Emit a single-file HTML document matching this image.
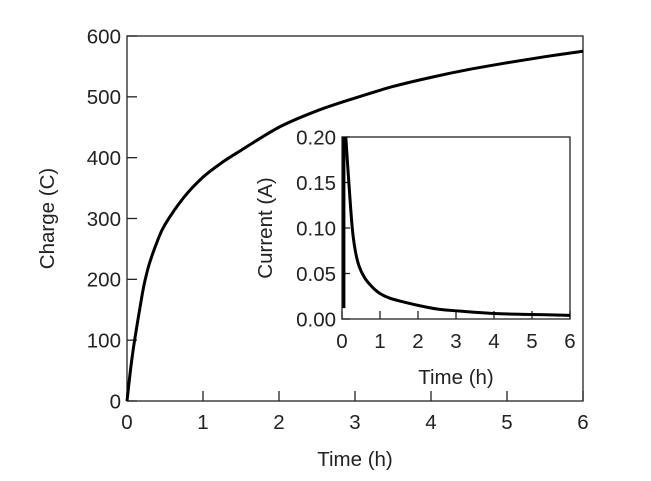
<!DOCTYPE html>
<html><head><meta charset="utf-8"><style>
html,body{margin:0;padding:0;background:#fff;}
svg{display:block;font-family:"Liberation Sans",Arial,sans-serif;}
</style></head><body>
<svg id="chart" width="651" height="481" viewBox="0 0 651 481"></svg>
<script>
const mainTimes=[0,0.05,0.1,0.2,0.25,0.3,0.4,0.5,0.75,1,1.25,1.5,2,2.5,3,3.5,4,4.5,5,5.5,6];
const mainCharge=[0,55,100,175,205,228,263,290,335,368,392,412,450,477,498,517,532,545,556,566,575];
const mainXTicks=[0,1,2,3,4,5,6];
const mainYTicks=[0,100,200,300,400,500,600];
const insetSpikeTimes=[0.05,0.05];
const insetSpikeCurrent=[0.012,0.2];
const insetTimes=[0.1,0.18,0.27,0.35,0.45,0.6,0.8,1,1.25,1.5,2,2.5,3,4,5,6];
const insetCurrent=[0.2,0.15,0.1,0.075,0.058,0.045,0.035,0.028,0.023,0.02,0.015,0.011,0.009,0.006,0.005,0.004];
const insetXTicks=[0,1,2,3,4,5,6];
const insetYTicks=["0.00","0.05","0.10","0.15","0.20"];

const NS="http://www.w3.org/2000/svg";
const svg=document.getElementById('chart');
function mk(tag,attrs,parent){const e=document.createElementNS(NS,tag);for(const k in attrs)e.setAttribute(k,attrs[k]);(parent||svg).appendChild(e);return e;}
function smooth(pts){
  if(pts.length<3)return pts.map((p,i)=>(i?'L':'M')+p[0].toFixed(2)+','+p[1].toFixed(2)).join(' ');
  let d='M'+pts[0][0].toFixed(2)+','+pts[0][1].toFixed(2);
  for(let i=0;i<pts.length-1;i++){
    const p0=pts[i-1]||pts[i],p1=pts[i],p2=pts[i+1],p3=pts[i+2]||p2;
    const c1=[p1[0]+(p2[0]-p0[0])/6,p1[1]+(p2[1]-p0[1])/6];
    const c2=[p2[0]-(p3[0]-p1[0])/6,p2[1]-(p3[1]-p1[1])/6];
    d+=` C${c1[0].toFixed(2)},${c1[1].toFixed(2)} ${c2[0].toFixed(2)},${c2[1].toFixed(2)} ${p2[0].toFixed(2)},${p2[1].toFixed(2)}`;
  }
  return d;
}

function drawPanel(o){
  const sx=v=>o.x0+(v-o.xmin)/(o.xmax-o.xmin)*(o.x1-o.x0);
  const sy=v=>o.y0-(v-o.ymin)/(o.ymax-o.ymin)*(o.y0-o.y1);
  const g=mk('g',{});
  
  
  const f=mk('rect',{x:o.x0,y:o.y1,width:o.x1-o.x0,height:o.y0-o.y1,fill:'#fff',stroke:'#222','stroke-width':1.3},g);
  
  
  o.xt.forEach(t=>{
    const x=sx(t);
    const l=mk('line',{x1:x,x2:x,y1:o.y0,y2:o.y0-o.tl,stroke:'#222','stroke-width':1.3},g);
    
    
    const tx=mk('text',{x:x,y:o.y0+o.xlo,'text-anchor':'middle','font-size':o.fs,fill:'#222'},g);
    
    
    tx.textContent=t;
  });
  o.yt.forEach(t=>{
    const y=sy(+t);
    const l=mk('line',{x1:o.x0,x2:o.x0+o.tl,y1:y,y2:y,stroke:'#222','stroke-width':1.3},g);
    
    
    const tx=mk('text',{x:o.x0-6,y:y+o.fs*0.36,'text-anchor':'end','font-size':o.fs,fill:'#222'},g);
    
    
    tx.textContent=t;
  });
  o.series.forEach(s=>{
    const d=smooth(s.xs.map((v,i)=>[sx(v),sy(s.ys[i])]));
    const p=mk('path',{d:d,fill:'none',stroke:'#000','stroke-width':3,'stroke-linejoin':'round'},g);
    
    
  });
  const xl=mk('text',{x:(o.x0+o.x1)/2,y:o.xly,'text-anchor':'middle','font-size':o.fs,fill:'#222'},g);
  
  
  xl.textContent='Time (h)';
  const yl=mk('text',{x:0,y:0,transform:`translate(${o.ylx},${(o.y0+o.y1)/2}) rotate(-90)`,'text-anchor':'middle','font-size':o.fs,fill:'#222'},g);
  
  
  yl.textContent=o.ytitle;
}

drawPanel({name:'main-chart',x0:127,x1:583,y0:401,y1:36,xmin:0,xmax:6,ymin:0,ymax:600,
  xt:mainXTicks,yt:mainYTicks,tl:10,fs:20.5,xlo:28,xly:466,ylx:54,ytitle:'Charge (C)',
  series:[{name:'charge-line',xs:mainTimes,ys:mainCharge}]});
drawPanel({name:'inset-chart',x0:342,x1:570,y0:319,y1:137,xmin:0,xmax:6,ymin:0,ymax:0.2,
  xt:insetXTicks,yt:insetYTicks,tl:8,fs:20.5,xlo:29,xly:384,ylx:272,ytitle:'Current (A)',
  series:[{name:'current-spike',xs:insetSpikeTimes,ys:insetSpikeCurrent},{name:'current-line',xs:insetTimes,ys:insetCurrent}]});
</script>
</body></html>
